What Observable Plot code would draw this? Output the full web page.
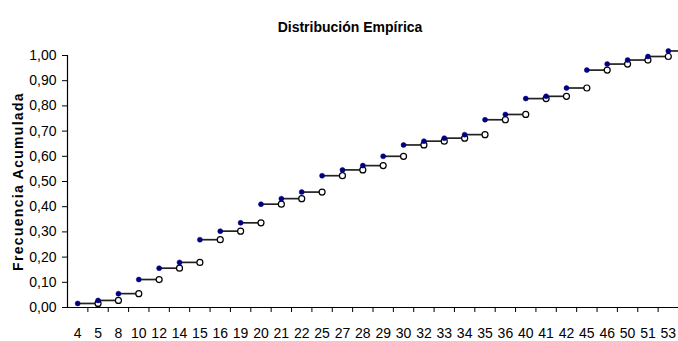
<!DOCTYPE html>
<html>
<head>
<meta charset="utf-8">
<script src="https://cdn.jsdelivr.net/npm/d3@7"></script>
<script src="https://cdn.jsdelivr.net/npm/@observablehq/plot@0.6"></script>
<style>
  body { margin: 0; background: #fff; }
  #chart svg { display: block; }
</style>
</head>
<body>
<div id="chart"></div>
<script>
const title = "Distribución Empírica";
const labels = ["4","5","8","10","12","14","15","16","19","20","21","22","25","27","28","29","30","32","33","34","35","36","40","41","42","45","46","50","51","53"];
const cumFreq = [0.016,0.028,0.055,0.111,0.156,0.179,0.269,0.303,0.336,0.410,0.432,0.458,0.523,0.546,0.563,0.600,0.645,0.660,0.672,0.686,0.745,0.766,0.829,0.838,0.871,0.942,0.966,0.982,0.996,1.018];
const yTicks = [0,0.1,0.2,0.3,0.4,0.5,0.6,0.7,0.8,0.9,1.0];
const yLabel = "Frecuencia Acumulada";

const n = labels.length;
const steps = labels.map((label, i) => ({i, label, f: cumFreq[i], end: i < n - 1 ? i + 1 : n - 0.5}));
const openPts = steps.slice(0, n - 1).map(d => ({x: d.i + 1, f: d.f}));
const centers = labels.map((_, i) => i);
const bounds = labels.slice(1).map((_, i) => i + 0.5);

const chart = Plot.plot({
  width: 678,
  height: 341,
  marginLeft: 67,
  marginRight: 0,
  marginTop: 55,
  marginBottom: 34,
  x: {type: "linear", domain: [-0.5, n - 0.5]},
  y: {domain: [0, 1]},
  style: {fontFamily: '"Liberation Sans", Arial, sans-serif', fontSize: "14px", color: "#000", background: "#fff"},
  marks: [
    Plot.axisY({ticks: yTicks, tickSize: 5, tickPadding: 6, tickFormat: d => d.toFixed(2).replace(".", ","), label: null, stroke: "#000"}),
    Plot.axisX({ticks: centers, tickSize: 0, tickPadding: 20.5, tickFormat: i => labels[i], label: null}),
    Plot.axisX({ticks: bounds, tickSize: 5, tickFormat: () => "", label: null, stroke: "#000"}),
    Plot.ruleY([0], {stroke: "#000", strokeWidth: 1.2}),
    Plot.ruleX([-0.5], {stroke: "#000", strokeWidth: 1.2}),
    Plot.link(steps, {x1: "i", x2: "end", y1: "f", y2: "f", stroke: "#222", strokeWidth: 1.7}),
    Plot.dot(openPts, {x: "x", y: "f", r: 3, stroke: "#000", strokeWidth: 1.2, fill: "#fff"}),
    Plot.dot(steps, {x: "i", y: "f", r: 2.5, fill: "#000080", stroke: "#000080", strokeWidth: 0.5}),
    Plot.text([title], {frameAnchor: "top", dx: -23, dy: -33, text: d => d, fontWeight: "bold", fontSize: 14, textAnchor: "middle"}),
    Plot.text([yLabel], {frameAnchor: "left", dx: -49, rotate: -90, text: d => d, fontWeight: "bold", fontSize: 14, textAnchor: "middle"})
  ]
});
document.getElementById("chart").appendChild(chart);
chart.querySelectorAll("text").forEach(t => { if (t.textContent === yLabel) t.setAttribute("letter-spacing", "1.3"); });
</script>
</body>
</html>
